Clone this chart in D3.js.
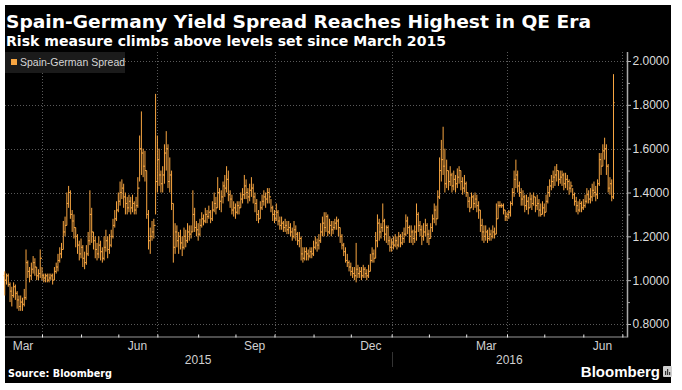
<!DOCTYPE html>
<html><head><meta charset="utf-8">
<script src="https://cdn.jsdelivr.net/npm/d3@7"></script>
<style>
html,body{margin:0;padding:0;background:#fff;}
svg{display:block;}
</style></head><body>
<svg id="c" width="682" height="390"></svg>
<script>
// ---- data ----
const firstDay = "2015-03-03", lastDay = "2016-06-24", axisEndDay = "2016-07-05";
const close = [
1.00,1.02,0.98,0.95,0.93,0.97,0.94,0.91,0.88,0.90,
0.89,0.92,1.08,1.04,1.02,1.05,1.08,1.06,1.02,1.03,
1.10,1.02,1.01,1.02,1.00,1.01,1.02,1.00,1.04,1.06,
1.09,1.12,1.14,1.22,1.25,1.35,1.40,1.30,1.27,1.24,
1.20,1.16,1.12,1.15,1.10,1.08,1.12,1.18,1.30,1.22,
1.18,1.14,1.12,1.16,1.13,1.10,1.15,1.18,1.14,1.16,
1.20,1.25,1.28,1.32,1.36,1.40,1.42,1.38,1.35,1.33,
1.36,1.33,1.35,1.32,1.34,1.42,1.60,1.58,1.52,1.50,
1.30,1.18,1.20,1.22,1.25,1.45,1.55,1.48,1.44,1.48,
1.58,1.60,1.45,1.48,1.35,1.15,1.22,1.18,1.20,1.17,
1.15,1.20,1.18,1.22,1.21,1.22,1.30,1.24,1.23,1.21,
1.25,1.28,1.27,1.30,1.29,1.31,1.28,1.32,1.35,1.33,
1.40,1.36,1.38,1.43,1.42,1.46,1.39,1.37,1.32,1.33,
1.31,1.34,1.33,1.37,1.39,1.43,1.40,1.38,1.41,1.42,
1.38,1.35,1.30,1.28,1.33,1.36,1.38,1.37,1.40,1.38,
1.33,1.30,1.28,1.31,1.27,1.25,1.26,1.24,1.25,1.23,
1.24,1.22,1.20,1.23,1.21,1.18,1.19,1.12,1.10,1.13,
1.12,1.11,1.13,1.12,1.15,1.17,1.16,1.18,1.22,1.26,
1.24,1.29,1.22,1.25,1.23,1.24,1.26,1.27,1.24,1.20,
1.16,1.13,1.09,1.08,1.06,1.04,1.03,1.02,1.05,1.03,
1.04,1.02,1.05,1.03,1.02,1.04,1.09,1.12,1.10,1.18,
1.26,1.22,1.24,1.27,1.21,1.24,1.18,1.15,1.17,1.16,
1.18,1.16,1.20,1.17,1.19,1.21,1.27,1.24,1.20,1.22,
1.19,1.22,1.30,1.25,1.23,1.20,1.22,1.25,1.21,1.19,
1.24,1.28,1.32,1.28,1.38,1.50,1.55,1.52,1.44,1.50,
1.45,1.48,1.43,1.46,1.44,1.47,1.50,1.45,1.42,1.44,
1.40,1.36,1.33,1.38,1.35,1.37,1.34,1.32,1.25,1.22,
1.20,1.22,1.19,1.21,1.20,1.22,1.21,1.28,1.34,1.34,
1.34,1.32,1.29,1.30,1.31,1.35,1.40,1.46,1.48,1.43,
1.40,1.37,1.38,1.34,1.36,1.33,1.37,1.35,1.38,1.34,
1.35,1.32,1.30,1.33,1.31,1.36,1.40,1.43,1.45,1.47,
1.48,1.50,1.46,1.47,1.48,1.44,1.46,1.45,1.42,1.43,
1.39,1.36,1.34,1.32,1.35,1.33,1.34,1.36,1.39,1.37,
1.38,1.41,1.40,1.39,1.44,1.55,1.52,1.59,1.60,1.52,
1.42,1.44,1.38,1.81];
const high = [
1.04,1.03,1.03,0.99,0.97,0.99,0.98,0.95,0.93,0.93,
0.92,0.96,1.14,1.09,1.06,1.08,1.11,1.10,1.06,1.05,
1.14,1.06,1.03,1.03,1.03,1.03,1.03,1.03,1.06,1.08,
1.12,1.15,1.17,1.27,1.29,1.40,1.43,1.41,1.32,1.30,
1.24,1.21,1.18,1.19,1.16,1.13,1.16,1.22,1.41,1.33,
1.22,1.20,1.17,1.20,1.18,1.15,1.20,1.23,1.20,1.21,
1.23,1.28,1.32,1.36,1.40,1.45,1.46,1.44,1.40,1.38,
1.39,1.38,1.39,1.36,1.38,1.47,1.66,1.77,1.60,1.59,
1.50,1.32,1.24,1.27,1.28,1.85,1.66,1.60,1.50,1.52,
1.62,1.68,1.62,1.56,1.50,1.35,1.26,1.25,1.22,1.23,
1.20,1.24,1.23,1.26,1.25,1.25,1.41,1.33,1.27,1.26,
1.28,1.31,1.30,1.33,1.32,1.34,1.32,1.36,1.40,1.38,
1.47,1.42,1.41,1.45,1.48,1.52,1.50,1.41,1.39,1.36,
1.35,1.36,1.36,1.40,1.42,1.48,1.46,1.42,1.44,1.47,
1.44,1.40,1.37,1.32,1.36,1.39,1.41,1.40,1.42,1.42,
1.37,1.34,1.32,1.35,1.32,1.29,1.29,1.27,1.28,1.27,
1.27,1.26,1.24,1.27,1.25,1.22,1.22,1.20,1.15,1.15,
1.15,1.14,1.15,1.15,1.18,1.20,1.19,1.21,1.26,1.29,
1.31,1.31,1.30,1.28,1.27,1.27,1.28,1.29,1.28,1.24,
1.21,1.17,1.15,1.12,1.09,1.08,1.06,1.06,1.17,1.07,
1.06,1.06,1.07,1.06,1.05,1.07,1.12,1.15,1.14,1.22,
1.30,1.28,1.26,1.35,1.28,1.25,1.25,1.20,1.19,1.20,
1.21,1.20,1.22,1.21,1.22,1.24,1.30,1.29,1.25,1.25,
1.23,1.25,1.35,1.31,1.27,1.25,1.26,1.28,1.26,1.23,
1.26,1.30,1.35,1.34,1.41,1.56,1.64,1.70,1.60,1.55,
1.50,1.52,1.49,1.50,1.48,1.51,1.52,1.50,1.47,1.48,
1.45,1.40,1.38,1.40,1.39,1.40,1.39,1.36,1.32,1.28,
1.25,1.25,1.23,1.24,1.23,1.25,1.24,1.35,1.36,1.36,
1.35,1.35,1.32,1.31,1.32,1.36,1.42,1.50,1.55,1.50,
1.45,1.42,1.41,1.39,1.39,1.38,1.40,1.39,1.40,1.38,
1.39,1.37,1.35,1.36,1.35,1.39,1.43,1.46,1.48,1.50,
1.52,1.53,1.50,1.50,1.50,1.49,1.49,1.48,1.46,1.45,
1.42,1.40,1.38,1.36,1.37,1.36,1.37,1.39,1.42,1.41,
1.42,1.44,1.45,1.43,1.46,1.58,1.58,1.62,1.65,1.62,
1.53,1.47,1.46,1.94];
const low = [
0.93,0.98,0.97,0.90,0.88,0.92,0.91,0.87,0.86,0.86,
0.86,0.88,0.91,1.01,0.99,1.00,1.03,1.02,1.00,1.00,
1.01,1.00,0.99,0.99,0.99,0.99,1.00,0.98,1.00,1.03,
1.04,1.08,1.10,1.14,1.20,1.25,1.33,1.28,1.22,1.19,
1.15,1.12,1.09,1.10,1.06,1.05,1.07,1.11,1.16,1.17,
1.14,1.10,1.09,1.10,1.09,1.08,1.09,1.13,1.10,1.12,
1.15,1.19,1.24,1.27,1.31,1.34,1.37,1.33,1.30,1.30,
1.31,1.30,1.31,1.30,1.30,1.33,1.45,1.48,1.47,1.45,
1.28,1.14,1.12,1.18,1.19,1.30,1.40,1.43,1.40,1.40,
1.44,1.50,1.42,1.40,1.32,1.08,1.12,1.15,1.12,1.14,
1.11,1.14,1.15,1.17,1.18,1.19,1.22,1.22,1.20,1.18,
1.20,1.24,1.25,1.26,1.26,1.28,1.26,1.27,1.31,1.30,
1.33,1.32,1.31,1.35,1.38,1.40,1.36,1.33,1.30,1.29,
1.28,1.30,1.30,1.33,1.35,1.37,1.37,1.35,1.36,1.38,
1.35,1.31,1.27,1.26,1.28,1.32,1.34,1.33,1.35,1.35,
1.31,1.27,1.26,1.27,1.25,1.23,1.23,1.22,1.22,1.21,
1.21,1.20,1.18,1.19,1.18,1.16,1.15,1.09,1.08,1.09,
1.09,1.09,1.10,1.10,1.11,1.14,1.13,1.14,1.17,1.20,
1.20,1.22,1.20,1.21,1.20,1.21,1.23,1.23,1.20,1.17,
1.14,1.11,1.08,1.06,1.04,1.02,1.01,1.00,0.99,1.01,
1.01,1.00,1.01,1.01,1.00,1.01,1.04,1.08,1.08,1.10,
1.15,1.18,1.19,1.22,1.18,1.17,1.16,1.13,1.13,1.14,
1.15,1.14,1.15,1.15,1.16,1.17,1.20,1.21,1.17,1.17,
1.16,1.17,1.18,1.22,1.20,1.16,1.18,1.20,1.17,1.16,
1.19,1.22,1.26,1.25,1.28,1.37,1.45,1.48,1.40,1.42,
1.41,1.43,1.40,1.41,1.40,1.42,1.44,1.41,1.39,1.40,
1.38,1.33,1.31,1.33,1.32,1.33,1.31,1.28,1.22,1.18,
1.17,1.18,1.17,1.18,1.18,1.19,1.19,1.21,1.28,1.33,
1.33,1.30,1.27,1.27,1.28,1.29,1.34,1.38,1.42,1.40,
1.38,1.34,1.34,1.31,1.32,1.30,1.33,1.32,1.34,1.31,
1.32,1.29,1.29,1.30,1.29,1.31,1.35,1.38,1.41,1.42,
1.43,1.45,1.43,1.44,1.43,1.41,1.42,1.41,1.39,1.40,
1.37,1.34,1.31,1.30,1.31,1.31,1.32,1.33,1.35,1.35,
1.35,1.36,1.38,1.36,1.37,1.43,1.48,1.52,1.55,1.48,
1.40,1.39,1.36,1.37];
const firstOpen = 1.02;
const yTicks = [0.8, 1.0, 1.2, 1.4, 1.6, 1.8, 2.0];
const yMinorTicks = [0.9, 1.1, 1.3, 1.5, 1.7, 1.9];
const monthNames = ["Jan","Feb","Mar","Apr","May","Jun","Jul","Aug","Sep","Oct","Nov","Dec"];
const labelMonths = [2, 5, 8, 11];   // Mar, Jun, Sep, Dec
const gridMonths = [0, 3, 6, 9];     // Jan, Apr, Jul, Oct
const seriesName = "Spain-German Spread";
const titleText = "Spain-Germany Yield Spread Reaches Highest in QE Era";
const subtitleText = "Risk measure climbs above levels set since March 2015";
const sourceText = "Source: Bloomberg";

// ---- trading-day categories ----
const parse = d3.utcParse("%Y-%m-%d");
const days = d3.utcDay.range(parse(firstDay), d3.utcDay.offset(parse(axisEndDay), 1))
  .filter(d => d.getUTCDay() > 0 && d.getUTCDay() < 6);
const n = Math.min(close.length, high.length, low.length);
const key = d => d.getUTCFullYear() * 12 + d.getUTCMonth();
const monthStarts = [];
days.forEach((d, i) => { if (i === 0 || key(d) !== key(days[i - 1])) monthStarts.push({i, d}); });
const idxOf = (y, m) => { const ms = monthStarts.find(o => o.d.getUTCFullYear() === y && o.d.getUTCMonth() === m); return ms ? ms.i : null; };

// ---- scales ----
const iApr = idxOf(2015, 3);
const x = d3.scaleLinear().domain([iApr, n - 1]).range([42, 613.5]);
const y = d3.scaleLinear().domain([0.8, 2.0]).range([324, 61]);
const plotLeft = 5, plotRight = 627, plotTop = 52, plotBottom = 336.5;

const svg = d3.select("#c");
const FONT = "'Liberation Sans', Arial, sans-serif";

svg.append("rect").attr("x", 5).attr("y", 5).attr("width", 666).attr("height", 378).attr("fill", "#000");

// titles
svg.append("text").attr("x", 6).attr("y", 28).text(titleText)
  .attr("fill", "#fff").attr("font-family", "'DejaVu Sans', sans-serif").attr("font-weight", "bold")
  .attr("font-size", 18.5).attr("textLength", 585).attr("lengthAdjust", "spacingAndGlyphs");
svg.append("text").attr("x", 6).attr("y", 46).text(subtitleText)
  .attr("fill", "#fff").attr("font-family", "'DejaVu Sans', sans-serif").attr("font-weight", "bold")
  .attr("font-size", 13.5).attr("textLength", 440).attr("lengthAdjust", "spacingAndGlyphs");

// grid
const grid = svg.append("g");
grid.selectAll("line.h").data(yTicks).join("line")
  .attr("x1", plotLeft).attr("x2", plotRight).attr("y1", d => Math.round(y(d)) + 0.5).attr("y2", d => Math.round(y(d)) + 0.5)
  .attr("stroke", "#5a5a5a").attr("stroke-dasharray", "1,2");
const gridIdx = monthStarts.filter(o => gridMonths.includes(o.d.getUTCMonth()) && o.i > 0).map(o => o.i);
grid.selectAll("line.v").data(gridIdx).join("line")
  .attr("x1", d => Math.round(x(d)) + 0.5).attr("x2", d => Math.round(x(d)) + 0.5)
  .attr("y1", plotTop).attr("y2", plotBottom)
  .attr("stroke", "#5a5a5a").attr("stroke-dasharray", "1,2");

// legend
const lg = svg.append("g");
lg.append("rect").attr("x", 5).attr("y", 52).attr("width", 120).attr("height", 21).attr("fill", "#1b1b1b");
lg.append("rect").attr("x", 11).attr("y", 59).attr("width", 6).attr("height", 6).attr("fill", "#f7a541");
lg.append("text").attr("x", 20).attr("y", 66).text(seriesName).attr("fill", "#d6d6d6")
  .attr("font-family", FONT).attr("font-size", 10.5);

// bars (OHLC)
const COL = "#f7a541";
const bars = svg.append("g").attr("stroke", COL).attr("stroke-width", 1);
const data = d3.range(n).map(i => ({i, o: i === 0 ? firstOpen : close[i - 1], h: high[i], l: low[i], c: close[i]}));
bars.selectAll("line.hl").data(data).join("line")
  .attr("x1", d => x(d.i)).attr("x2", d => x(d.i)).attr("y1", d => y(d.h)).attr("y2", d => y(d.l));
bars.selectAll("line.op").data(data).join("line")
  .attr("x1", d => x(d.i) - 1.1).attr("x2", d => x(d.i)).attr("y1", d => y(d.o)).attr("y2", d => y(d.o));
bars.selectAll("line.cl").data(data).join("line")
  .attr("x1", d => x(d.i)).attr("x2", d => x(d.i) + 1.1).attr("y1", d => y(d.c)).attr("y2", d => y(d.c));

// y axis (right)
const ya = svg.append("g").attr("transform", `translate(${plotRight},0)`)
  .call(d3.axisRight(y).tickValues(yTicks).tickFormat(d3.format(".4f")).tickSize(4).tickPadding(1.5));
ya.select(".domain").remove();
ya.selectAll("line").attr("stroke", "#bbb");
ya.selectAll("text").attr("fill", "#dcdcdc").attr("font-family", FONT).attr("font-size", 12);
const ym = svg.append("g").attr("transform", `translate(${plotRight},0)`)
  .call(d3.axisRight(y).tickValues(yMinorTicks).tickFormat("").tickSize(3));
ym.select(".domain").remove();
ym.selectAll("line").attr("stroke", "#999");
svg.append("line").attr("x1", plotRight + 0.5).attr("x2", plotRight + 0.5).attr("y1", plotTop).attr("y2", plotBottom + 1)
  .attr("stroke", "#aaa").attr("stroke-width", 1.5);

// x axis
svg.append("line").attr("x1", plotLeft).attr("x2", plotRight).attr("y1", plotBottom + 0.5).attr("y2", plotBottom + 0.5)
  .attr("stroke", "#666").attr("stroke-width", 1.5);
const tickIdx = monthStarts.filter(o => o.i > 0).map(o => o.i);
const xt = svg.append("g").attr("transform", `translate(0,${plotBottom + 1})`)
  .call(d3.axisBottom(x).tickValues(tickIdx).tickFormat("").tickSize(-3));
xt.select(".domain").remove();
xt.selectAll("line").attr("stroke", "#eee");

// month labels centered within their month
const lastIdx = days.length;
const labelData = monthStarts.map((o, k) => ({
  m: o.d.getUTCMonth(), y: o.d.getUTCFullYear(),
  c: (o.i + (k + 1 < monthStarts.length ? monthStarts[k + 1].i : lastIdx)) / 2 - 0.5
})).filter(o => labelMonths.includes(o.m));
const xl = svg.append("g").attr("transform", `translate(0,${plotBottom + 1})`)
  .call(d3.axisBottom(x).tickValues(labelData.map(o => o.c))
    .tickFormat((d, k) => monthNames[labelData[k].m]).tickSize(0).tickPadding(4));
xl.select(".domain").remove();
xl.selectAll("text").attr("fill", "#d0d0d0").attr("font-family", FONT).attr("font-size", 12);

// year labels
const jan16 = idxOf(2016, 0);
const years = [
  {t: "2015", c: (0 + jan16) / 2},
  {t: "2016", c: (jan16 + x.invert(plotRight)) / 2}
];
svg.selectAll("text.yr").data(years).join("text")
  .attr("x", d => x(d.c)).attr("y", 364).attr("text-anchor", "middle").text(d => d.t)
  .attr("fill", "#d0d0d0").attr("font-family", FONT).attr("font-size", 12);
svg.append("line").attr("x1", Math.round(x(jan16)) + 0.5).attr("x2", Math.round(x(jan16)) + 0.5)
  .attr("y1", 352).attr("y2", 367).attr("stroke", "#333");

// footer
svg.append("text").attr("x", 8).attr("y", 377).text(sourceText).attr("fill", "#fff")
  .attr("font-family", "'DejaVu Sans', sans-serif").attr("font-weight", "bold").attr("font-size", 10.5)
  .attr("textLength", 104).attr("lengthAdjust", "spacingAndGlyphs");
svg.append("text").attr("x", 660).attr("y", 377).attr("text-anchor", "end").text("Bloomberg").attr("fill", "#fff")
  .attr("font-family", FONT).attr("font-weight", "bold").attr("font-size", 15);
const icon = svg.append("g").attr("transform", "translate(663,366)");
icon.append("rect").attr("width", 9).attr("height", 11).attr("rx", 1).attr("fill", "#cfcfcf");
icon.append("rect").attr("x", 2).attr("y", 5).attr("width", 1.2).attr("height", 4).attr("fill", "#333");
icon.append("rect").attr("x", 4).attr("y", 3).attr("width", 1.2).attr("height", 6).attr("fill", "#333");
icon.append("rect").attr("x", 6).attr("y", 6).attr("width", 1.2).attr("height", 3).attr("fill", "#333");
</script>
</body></html>
